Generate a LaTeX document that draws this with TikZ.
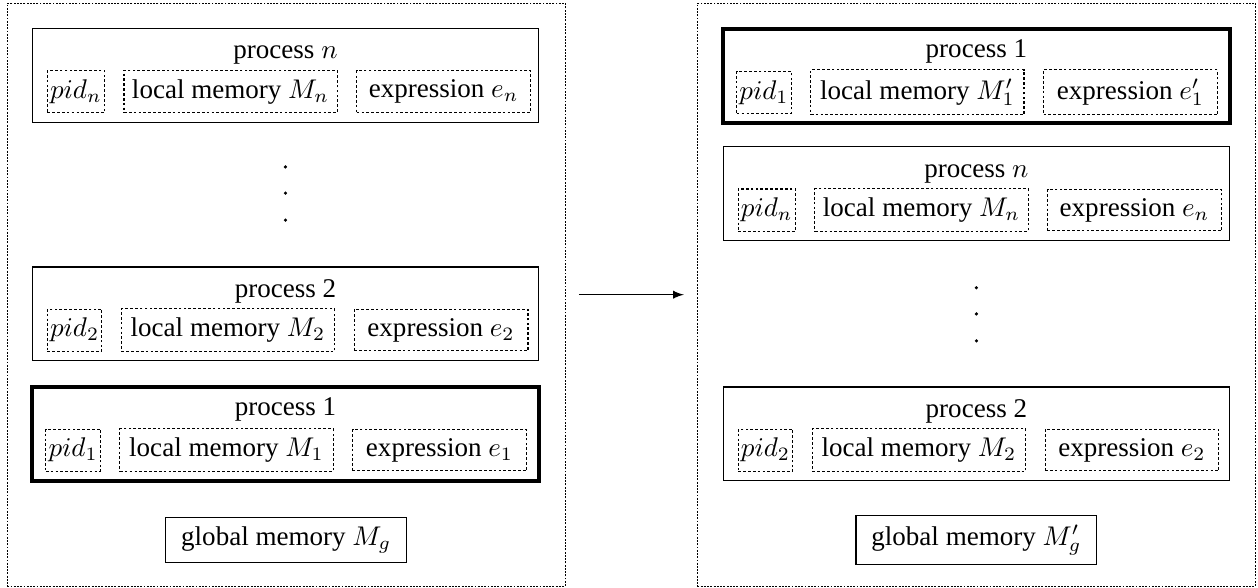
\documentclass[tikz,border=0pt]{standalone}
\usepackage[no-math]{fontspec}
\setmainfont{Liberation Serif}[Ligatures=TeX]
\usetikzlibrary{positioning}
\begin{document}
\begin{tikzpicture}[
    panel/.style={draw, dash pattern=on 0.7pt off 0.5pt, minimum width=7.25cm, minimum height=7.58cm},
    proc/.style={draw, minimum width=6.58cm, minimum height=1.22cm},
    active/.style={proc, line width=1.5pt},
    field/.style={draw, dash pattern=on 1pt off 0.8pt, inner xsep=1pt, minimum height=0.52cm},
    mem/.style={field, minimum width=2.77cm},
    expr/.style={field, minimum width=2.26cm},
    glob/.style={draw, minimum width=3.13cm, minimum height=0.55cm},
    dot/.style={circle, fill, inner sep=0pt, minimum size=1.3pt},
    title/.style={anchor=base, font=\rmfamily},
    node distance=0.24cm]
  \useasboundingbox (0,0) rectangle (16.35,-7.63);
  \draw
    (3.72,-3.83) node[panel] (L){}
    (12.69,-3.83) node[panel] (R){};
  \draw
    (3.71,-0.98) node[proc] (Ln){}
    (3.71,-4.08) node[proc] (L2){}
    (3.71,-5.64) node[active] (L1){}
    (12.69,-0.99) node[active] (R1){}
    (12.69,-2.52) node[proc] (Rn){}
    (12.69,-5.64) node[proc] (R2){};

  \node[title] (Ln-t) at ([yshift=-0.4cm]Ln.north) {process $n$};
  \node[field, anchor=west] (Ln-pid) at ([shift={(0.195,-0.21)}]Ln.west) {$pid_n$};
  \node[mem, right=of Ln-pid] (Ln-mem) {local memory $M_n$};
  \node[expr, right=of Ln-mem] (Ln-exp) {expression $e_n$};

  \node[title] (L2-t) at ([yshift=-0.4cm]L2.north) {process 2};
  \node[field, anchor=west] (L2-pid) at ([shift={(0.195,-0.21)}]L2.west) {$pid_2$};
  \node[mem, right=of L2-pid] (L2-mem) {local memory $M_2$};
  \node[expr, right=of L2-mem] (L2-exp) {expression $e_2$};

  \node[title] (L1-t) at ([yshift=-0.4cm]L1.north) {process 1};
  \node[field, anchor=west] (L1-pid) at ([shift={(0.195,-0.21)}]L1.west) {$pid_1$};
  \node[mem, right=of L1-pid] (L1-mem) {local memory $M_1$};
  \node[expr, right=of L1-mem] (L1-exp) {expression $e_1$};

  \node[title] (R1-t) at ([yshift=-0.4cm]R1.north) {process 1};
  \node[field, anchor=west] (R1-pid) at ([shift={(0.195,-0.21)}]R1.west) {$pid_1$};
  \node[mem, right=of R1-pid] (R1-mem) {local memory $M_1'$};
  \node[expr, right=of R1-mem] (R1-exp) {expression $e_1'$};

  \node[title] (Rn-t) at ([yshift=-0.4cm]Rn.north) {process $n$};
  \node[field, anchor=west] (Rn-pid) at ([shift={(0.195,-0.21)}]Rn.west) {$pid_n$};
  \node[mem, right=of Rn-pid] (Rn-mem) {local memory $M_n$};
  \node[expr, right=of Rn-mem] (Rn-exp) {expression $e_n$};

  \node[title] (R2-t) at ([yshift=-0.4cm]R2.north) {process 2};
  \node[field, anchor=west] (R2-pid) at ([shift={(0.195,-0.21)}]R2.west) {$pid_2$};
  \node[mem, right=of R2-pid] (R2-mem) {local memory $M_2$};
  \node[expr, right=of R2-mem] (R2-exp) {expression $e_2$};

  \draw
    (3.71,-2.17) node[dot] (Ld1){}
    (3.71,-2.51) node[dot] (Ld2){}
    (3.71,-2.86) node[dot] (Ld3){}
    (12.69,-3.74) node[dot] (Rd1){}
    (12.69,-4.08) node[dot] (Rd2){}
    (12.69,-4.43) node[dot] (Rd3){};

  \node[glob] (Lg) at (3.72,-7.02) {global memory $M_g$};
  \node[glob] (Rg) at (12.69,-7.02) {global memory $M_g'$};

  \begin{scope}[-latex]
    \draw[shorten <=0.17cm, shorten >=0.17cm] (L) to (R);
  \end{scope}
\end{tikzpicture}
\end{document}
